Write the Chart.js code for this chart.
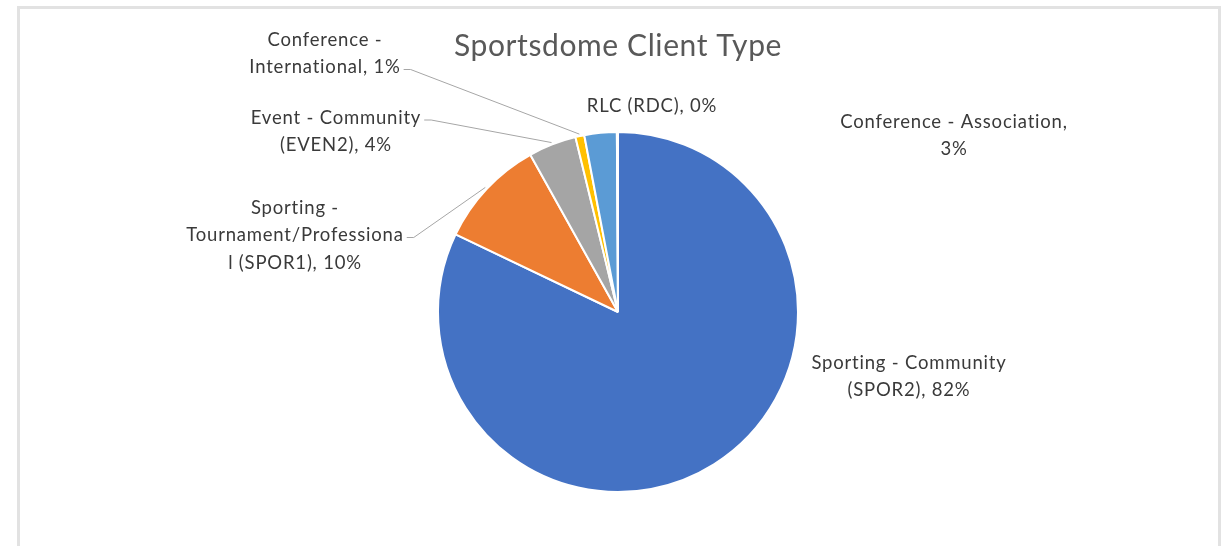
<!DOCTYPE html>
<html>
<head>
<meta charset="utf-8">
<script src="https://cdn.jsdelivr.net/npm/chart.js@4.4.1/dist/chart.umd.min.js"></script>
<style>
  html, body { margin: 0; padding: 0; background: #fff; }
  #wrap { position: relative; width: 1230px; height: 546px; overflow: hidden; }
  #frame {
    position: absolute; left: 17px; top: 6px; width: 1198px; height: 600px;
    border: 3px solid #e2e2e2; border-bottom: none;
  }
  #chart { position: absolute; left: 0; top: 0; }
</style>
</head>
<body>
<div id="wrap">
  <div id="frame"></div>
  <canvas id="chart" width="1230" height="546"></canvas>
</div>
<script>
// chart data
const chartTitle = 'Sportsdome Client Type';
const categories = [
    'Sporting - Community (SPOR2)',
    'Sporting - Tournament/Professional (SPOR1)',
    'Event - Community (EVEN2)',
    'Conference - International',
    'Conference - Association',
    'RLC (RDC)'
];
const shares = [82.1, 9.8, 4.3, 0.8, 2.9, 0.1];
const percentLabels = ['82%', '10%', '4%', '1%', '3%', '0%'];
const labelLines = [
    ['Sporting - Community', '(SPOR2), 82%'],
    ['Sporting -', 'Tournament/Professiona', 'l (SPOR1), 10%'],
    ['Event - Community', '(EVEN2), 4%'],
    ['Conference -', 'International, 1%'],
    ['Conference - Association,', '3%'],
    ['RLC (RDC), 0%']
];
const sliceColors = ['#4472C4', '#ED7D31', '#A5A5A5', '#FFC000', '#5B9BD5', '#70AD47'];

// where each label block sits, relative to the pie centre (px); leader = index of line the leader starts from
const labelPlacement = [
    { dx: 291, dy: 51, leader: -1 },
    { dx: -323, dy: -104, leader: 1 },
    { dx: -282, dy: -194, leader: 0 },
    { dx: -293, dy: -272, leader: 1 },
    { dx: 336, dy: -190, leader: -1 },
    { dx: 34, dy: -206, leader: -1 }
];

const LABEL_FONT = '18.5px Lato';
const LINE_HEIGHT = 27.5;

const pieLabels = {
    id: 'pieLabels',
    afterDraw(chart) {
        const ctx = chart.ctx;
        const arcs = chart.getDatasetMeta(0).data;
        ctx.save();

        // title
        const cx0 = arcs[0].x;
        ctx.font = '30px Lato';
        ctx.letterSpacing = '0.6px';
        ctx.fillStyle = '#595959';
        ctx.textAlign = 'center';
        ctx.textBaseline = 'middle';
        ctx.fillText(chartTitle, cx0, 46);

        ctx.font = LABEL_FONT;
        ctx.letterSpacing = '0.8px';
        labelLines.forEach(function (lines, i) {
            const arc = arcs[i];
            const place = labelPlacement[i];
            const x = arc.x + place.dx;
            const y0 = arc.y + place.dy;

            ctx.fillStyle = '#3a3a3a';
            lines.forEach(function (line, j) {
                ctx.fillText(line, x, y0 + j * LINE_HEIGHT);
            });

            if (place.leader >= 0) {
                const w = ctx.measureText(lines[place.leader]).width;
                const sx = x + w / 2 + 3;
                const sy = y0 + place.leader * LINE_HEIGHT + 2;
                const mid = (arc.startAngle + arc.endAngle) / 2;
                const r = arc.outerRadius + 2;
                const ex = arc.x + Math.cos(mid) * r;
                const ey = arc.y + Math.sin(mid) * r;
                ctx.strokeStyle = '#A6A6A6';
                ctx.lineWidth = 1;
                ctx.beginPath();
                ctx.moveTo(sx, sy);
                ctx.lineTo(sx + 7, sy);
                ctx.lineTo(ex, ey);
                ctx.stroke();
            }
        });
        ctx.restore();
    }
};

new Chart(document.getElementById('chart'), {
    type: 'pie',
    data: {
        labels: categories,
        datasets: [{
            data: shares,
            backgroundColor: sliceColors,
            borderColor: '#ffffff',
            borderWidth: 2
        }]
    },
    options: {
        responsive: false,
        animation: false,
        devicePixelRatio: 1,
        layout: { padding: { top: 131, bottom: 53, left: 437, right: 431 } },
        plugins: {
            legend: { display: false },
            tooltip: { enabled: false },
            title: { display: false }
        }
    },
    plugins: [pieLabels]
});
</script>
</body>
</html>
